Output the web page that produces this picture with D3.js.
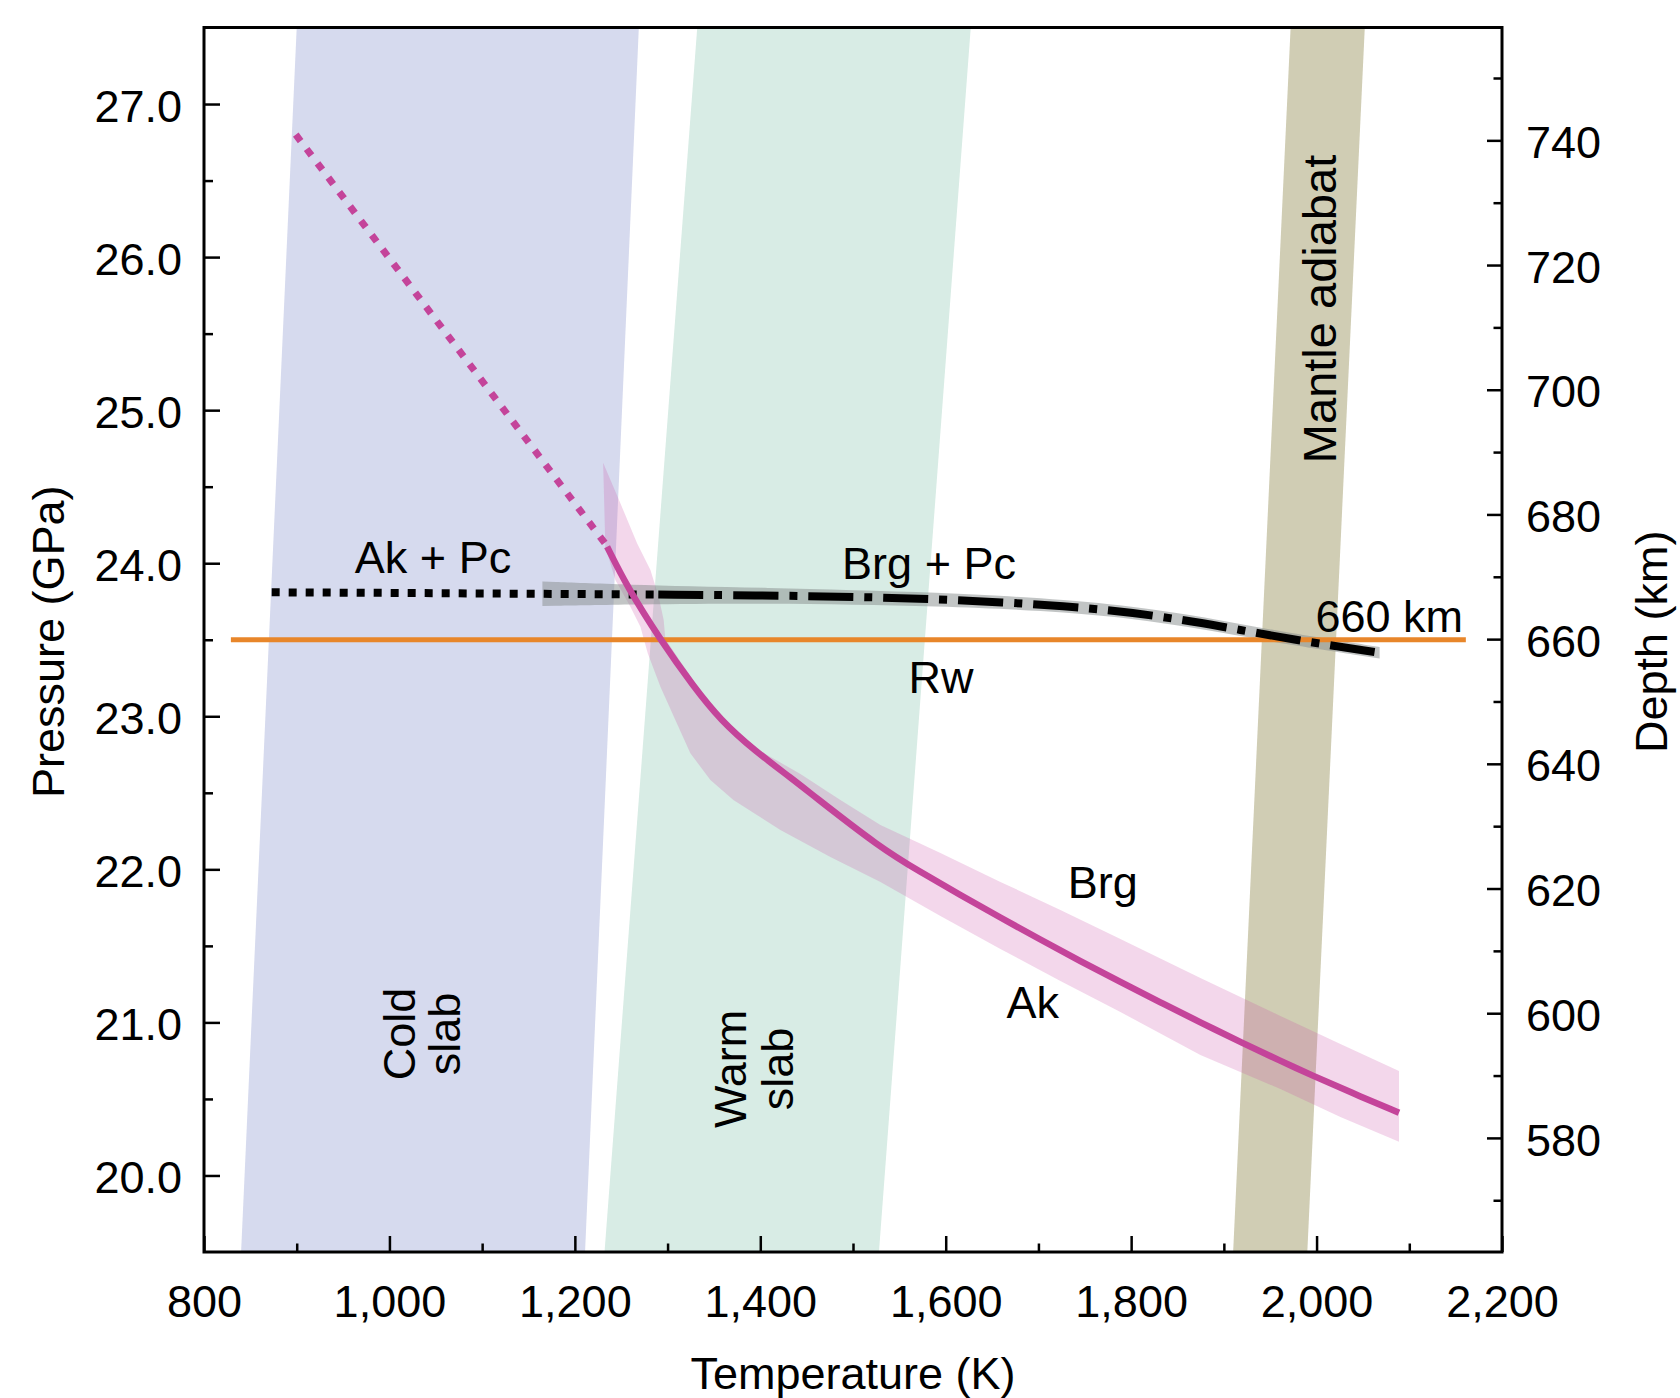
<!DOCTYPE html>
<html><head><meta charset="utf-8">
<script src="https://cdn.jsdelivr.net/npm/d3@7"></script>
<style>
body{margin:0;background:#fff}
svg{display:block}
text{font-family:"Liberation Sans",Arial,Helvetica,sans-serif;fill:#000}
</style>
</head><body>
<svg id="chart" width="1680" height="1398"></svg>
<script>
// ---------- data (Temperature K, Pressure GPa) ----------
const tempTicks = [800,1000,1200,1400,1600,1800,2000,2200];
const tempMinorTicks = [900,1100,1300,1500,1700,1900,2100];
const pressureTicks = [20,21,22,23,24,25,26,27];
const pressureMinorTicks = [20.5,21.5,22.5,23.5,24.5,25.5,26.5];
const depthTicks = [580,600,620,640,660,680,700,720,740];
const depthMinorTicks = [570,590,610,630,650,670,690,710,730,750];

const coldSlab = [[900,27.5],[1269,27.5],[1211,19.5],[840,19.5]];
const warmSlab = [[1332,27.5],[1627,27.5],[1528,19.5],[1232,19.5]];
const mantleAdiabat = [[1972,27.5],[2052,27.5],[1990,19.5],[1910,19.5]];

const line660km = [[829,23.5],[2161,23.5]];

const akPcDotted = [[873,23.81],[1000,23.806],[1165,23.80],[1290,23.795]];
const brgPcDashDot = [[1290,23.795],[1400,23.79],[1505,23.78],[1600,23.765],[1735,23.72],[1820,23.665],[1900,23.585],[1970,23.505],[2068,23.415]];
const brgPcBandUpper = [[1165,23.88],[1250,23.86],[1400,23.84],[1600,23.81],[1735,23.76],[1820,23.705],[1900,23.625],[1970,23.543],[2068,23.453]];
const brgPcBandLower = [[1165,23.72],[1250,23.73],[1400,23.74],[1600,23.72],[1735,23.68],[1820,23.625],[1900,23.545],[1970,23.467],[2068,23.377]];

const akBrgDotted = [[899,26.80],[1235,24.11]];
const akBrgSolid = [[1234.8,24.108],[1256.3,23.847],[1292.3,23.499],[1328.2,23.193],[1357.0,22.976],[1392.9,22.780],[1436.0,22.584],[1454.0,22.497],[1529.6,22.140],[1572.7,21.983],[1615.9,21.831],[1659.0,21.685],[1702.1,21.541],[1745.3,21.400],[1788.4,21.264],[1831.6,21.131],[1874.7,21.000],[1921.1,20.862],[1961.0,20.749],[1995.5,20.653],[2036.5,20.544],[2088.9,20.410]];
const akBrgBandUpper = [[1230.5,24.657],[1249.1,24.392],[1267.1,24.130],[1281.5,23.956],[1290.4,23.781],[1295.8,23.629],[1297.6,23.505],[1332.2,23.193],[1361.3,22.976],[1398.0,22.780],[1443.3,22.623],[1486.4,22.453],[1529.6,22.290],[1594.3,22.107],[1659.0,21.918],[1723.7,21.735],[1788.4,21.545],[1874.7,21.290],[1961.0,21.042],[2025.7,20.859],[2088.9,20.683]];
const akBrgBandLower = [[1232.9,24.108],[1243.7,23.891],[1259.9,23.716],[1270.7,23.585],[1278.6,23.412],[1292.3,23.193],[1308.4,22.976],[1324.6,22.758],[1346.2,22.584],[1371.0,22.453],[1421.7,22.257],[1475.6,22.081],[1529.6,21.918],[1594.3,21.695],[1659.0,21.480],[1723.7,21.271],[1788.4,21.068],[1874.7,20.787],[1961.0,20.565],[2025.7,20.382],[2088.9,20.221]];

// ---------- layout ----------
const L = 204, R = 1502, T = 27.5, B = 1252;
const svg = d3.select("#chart");
const x = d3.scaleLinear().domain([800,2200]).range([L,R]);
const y = d3.scaleLinear().domain([19.5,27.5]).range([B,T]);
const yDepth = d3.scaleLinear().domain([561.7,758.1]).range([B,T]);
const FS = 45;

svg.append("defs").append("clipPath").attr("id","plotclip")
  .append("rect").attr("x",L).attr("y",T).attr("width",R-L).attr("height",B-T);

const plot = svg.append("g").attr("clip-path","url(#plotclip)");
const line = d3.line().x(d=>x(d[0])).y(d=>y(d[1]));
const smooth = d3.line().x(d=>x(d[0])).y(d=>y(d[1])).curve(d3.curveBasis);
const poly = pts => line(pts) + "Z";

plot.append("path").attr("d",poly(coldSlab)).attr("fill","#d6daee");
plot.append("path").attr("d",poly(warmSlab)).attr("fill","#d8ece5");
plot.append("path").attr("d",poly(mantleAdiabat)).attr("fill","#d0cdb4");

// Ak/Brg uncertainty band
plot.append("path").attr("d",poly(akBrgBandUpper.concat(akBrgBandLower.slice().reverse())))
  .attr("fill","#c94aa6").attr("fill-opacity",0.22);

// Brg+Pc uncertainty band
const bandArea = d3.area().x(d=>x(d[0])).y0(d=>y(d[1])).y1(d=>y(d[2])).curve(d3.curveBasis);
plot.append("path").attr("d",bandArea(brgPcBandUpper.map((d,i)=>[d[0],d[1],brgPcBandLower[i][1]])))
  .attr("fill","#858b8b").attr("fill-opacity",0.5);

// 660 km line
plot.append("path").attr("d",line(line660km)).attr("fill","none")
  .attr("stroke","#e8862a").attr("stroke-width",5);

// Ak+Pc / Brg+Pc boundary
plot.append("path").attr("d",line(akPcDotted)).attr("fill","none")
  .attr("stroke","#000").attr("stroke-width",8).attr("stroke-dasharray","8,9");
plot.append("path").attr("d",smooth(brgPcDashDot))
  .attr("fill","none").attr("stroke","#000").attr("stroke-width",8).attr("stroke-dasharray","45,11,8,11");

// Ak / Brg boundary
plot.append("path").attr("d",line(akBrgDotted)).attr("fill","none")
  .attr("stroke","#c4449a").attr("stroke-width",7).attr("stroke-dasharray","8,10");
plot.append("path").attr("d",smooth(akBrgSolid))
  .attr("fill","none").attr("stroke","#c4449a").attr("stroke-width",6.5);

// ---------- annotations ----------
function label(txt, t, p, anchor){
  svg.append("text").attr("x",x(t)).attr("y",y(p)).attr("text-anchor",anchor||"middle")
    .attr("font-size",FS).text(txt);
}
label("Ak + Pc", 1047, 23.934);
label("Brg + Pc", 1582, 23.900);
label("660 km", 2158, 23.553, "end");
label("Rw", 1595, 23.150);
label("Brg", 1769.5, 21.811);
label("Ak", 1694, 21.027);

function vlabel(txt, t, p, fs){
  const px = x(t), py = y(p);
  svg.append("text").attr("transform",`translate(${px},${py}) rotate(-90)`)
    .attr("text-anchor","middle").attr("font-size",fs||FS).text(txt);
}
vlabel("Cold", 1028, 20.924);
vlabel("slab", 1076.6, 20.924);
vlabel("Warm", 1385, 20.696);
vlabel("slab", 1435.7, 20.696);
vlabel("Mantle adiabat", 2021, 25.661, 47);

// ---------- axes ----------
function styleAxis(g){
  g.select(".domain").remove();
  g.selectAll(".tick line").attr("stroke","#000").attr("stroke-width",2.5);
  g.selectAll(".tick text").attr("font-size",FS).attr("fill","#000")
    .style("font-family",'"Liberation Sans",Arial,Helvetica,sans-serif');
}
// bottom
svg.append("g").attr("transform",`translate(0,${B})`)
  .call(d3.axisBottom(x).tickValues(tempTicks).tickSize(-16).tickPadding(33).tickFormat(d3.format(",")))
  .call(styleAxis);
svg.append("g").attr("transform",`translate(0,${B})`)
  .call(d3.axisBottom(x).tickValues(tempMinorTicks).tickSize(-8.5).tickFormat(""))
  .call(styleAxis);
// left
svg.append("g").attr("transform",`translate(${L},0)`)
  .call(d3.axisLeft(y).tickValues(pressureTicks).tickSize(-16).tickPadding(22).tickFormat(d3.format(".1f")))
  .call(styleAxis)
  .call(g=>g.selectAll(".tick text").attr("dy","0.38em"));
svg.append("g").attr("transform",`translate(${L},0)`)
  .call(d3.axisLeft(y).tickValues(pressureMinorTicks).tickSize(-9).tickFormat(""))
  .call(styleAxis);
// right
svg.append("g").attr("transform",`translate(${R},0)`)
  .call(d3.axisRight(yDepth).tickValues(depthTicks).tickSize(-15).tickPadding(24).tickFormat(d3.format("d")))
  .call(styleAxis)
  .call(g=>g.selectAll(".tick text").attr("dy","0.38em"));
svg.append("g").attr("transform",`translate(${R},0)`)
  .call(d3.axisRight(yDepth).tickValues(depthMinorTicks).tickSize(-8.5).tickFormat(""))
  .call(styleAxis);

// frame
svg.append("rect").attr("x",L).attr("y",T).attr("width",R-L).attr("height",B-T)
  .attr("fill","none").attr("stroke","#000").attr("stroke-width",3);

// axis titles
svg.append("text").attr("x",(L+R)/2).attr("y",1389).attr("text-anchor","middle")
  .attr("font-size",FS).text("Temperature (K)");
svg.append("text").attr("transform",`translate(64,${(T+B)/2 + 2}) rotate(-90)`)
  .attr("text-anchor","middle").attr("font-size",FS).text("Pressure (GPa)");
svg.append("text").attr("transform",`translate(1667,${(T+B)/2 + 2}) rotate(-90)`)
  .attr("text-anchor","middle").attr("font-size",FS).text("Depth (km)");
</script>
</body></html>
